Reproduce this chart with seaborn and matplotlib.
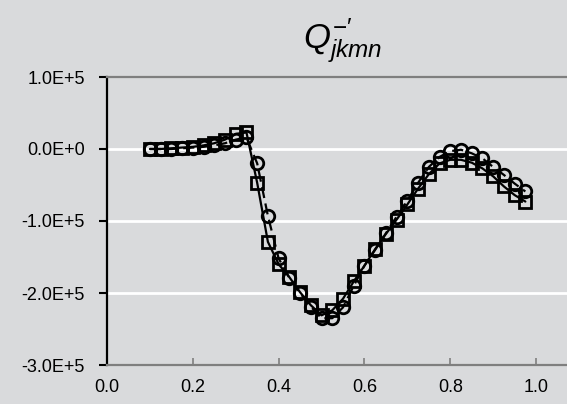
import matplotlib
matplotlib.use("Agg")
import matplotlib.pyplot as plt
import seaborn as sns
import pandas as pd

x_vals = [0.1, 0.125, 0.15, 0.175, 0.2, 0.225, 0.25, 0.275, 0.3, 0.325,
          0.35, 0.375, 0.4, 0.425, 0.45, 0.475, 0.5, 0.525, 0.55, 0.575,
          0.6, 0.625, 0.65, 0.675, 0.7, 0.725, 0.75, 0.775, 0.8, 0.825,
          0.85, 0.875, 0.9, 0.925, 0.95, 0.975]
circle_vals = [0.00, 0.00, 0.00, 0.01, 0.02, 0.03, 0.05, 0.08, 0.13, 0.16,
               -0.20, -0.93, -1.52, -1.79, -2.00, -2.19, -2.35, -2.35, -2.20, -1.90,
               -1.62, -1.40, -1.17, -0.94, -0.72, -0.47, -0.25, -0.11, -0.03, -0.01,
               -0.06, -0.13, -0.25, -0.36, -0.48, -0.59]
square_vals = [0.00, 0.00, 0.01, 0.02, 0.03, 0.05, 0.08, 0.13, 0.21, 0.23,
               -0.47, -1.29, -1.60, -1.78, -1.99, -2.17, -2.31, -2.24, -2.08, -1.84,
               -1.62, -1.39, -1.18, -0.98, -0.77, -0.55, -0.35, -0.20, -0.15, -0.15,
               -0.19, -0.27, -0.38, -0.52, -0.64, -0.73]
scale = 1e5
y_ticks = [-3e5, -2e5, -1e5, 0, 1e5]
y_labels = ["-3.0E+5", "-2.0E+5", "-1.0E+5", "0.0E+0", "1.0E+5"]
x_ticks = [0.0, 0.2, 0.4, 0.6, 0.8, 1.0]
x_labels = ["0.0", "0.2", "0.4", "0.6", "0.8", "1.0"]
title = r"$Q^{-\prime}_{jkmn}$"

df = pd.DataFrame({
    "x": x_vals * 2,
    "v": [v * scale for v in circle_vals] + [v * scale for v in square_vals],
    "series": ["circle"] * len(x_vals) + ["square"] * len(x_vals),
})

bg = "#D9DADC"
sns.set_theme(style="white")
plt.rcParams["font.family"] = ["Liberation Sans", "DejaVu Sans"]
plt.rcParams["mathtext.fontset"] = "custom"
plt.rcParams["mathtext.it"] = "Liberation Sans:italic"
plt.rcParams["mathtext.rm"] = "Liberation Sans"

fig = plt.figure(figsize=(5.67, 4.04), dpi=100, facecolor=bg)
ax = fig.add_axes([107 / 567, 39 / 404, 472 / 567, 288 / 404])
ax.set_facecolor(bg)

sns.lineplot(data=df, x="x", y="v", hue="series", style="series",
             palette={"circle": "black", "square": "black"},
             markers={"circle": "o", "square": "s"},
             dashes={"circle": (5, 2.5), "square": ""},
             markersize=9, markerfacecolor="none", markeredgecolor="black",
             markeredgewidth=2.0, linewidth=1.6, legend=False, ax=ax)

ax.set_xlim(0, 1.1)
ax.set_ylim(-3e5, 1e5)
ax.set_xticks(x_ticks)
ax.set_xticklabels(x_labels)
ax.set_yticks(y_ticks)
ax.set_yticklabels(y_labels)
ax.set_xlabel("")
ax.set_ylabel("")

for yv in y_ticks[1:-1]:
    ax.axhline(yv, color="white", lw=2, zorder=0)

ax.spines["left"].set_color("black")
ax.spines["left"].set_linewidth(1.6)
for side in ["bottom", "top"]:
    ax.spines[side].set_color("#7F7F7F")
    ax.spines[side].set_linewidth(1.6)
ax.spines["right"].set_visible(False)

ax.tick_params(axis="x", direction="in", length=5, width=1.2, color="#7F7F7F",
               labelsize=13, pad=10, labelcolor="black")
ax.tick_params(axis="y", direction="out", length=6, width=1.5, color="black",
               labelsize=13, pad=10, labelcolor="black")
ax.tick_params(axis="both", which="both", bottom=True, left=True)

ax.set_title(title, fontsize=25, pad=20, color="black")

fig.savefig("out.png", dpi=100, facecolor=bg)
